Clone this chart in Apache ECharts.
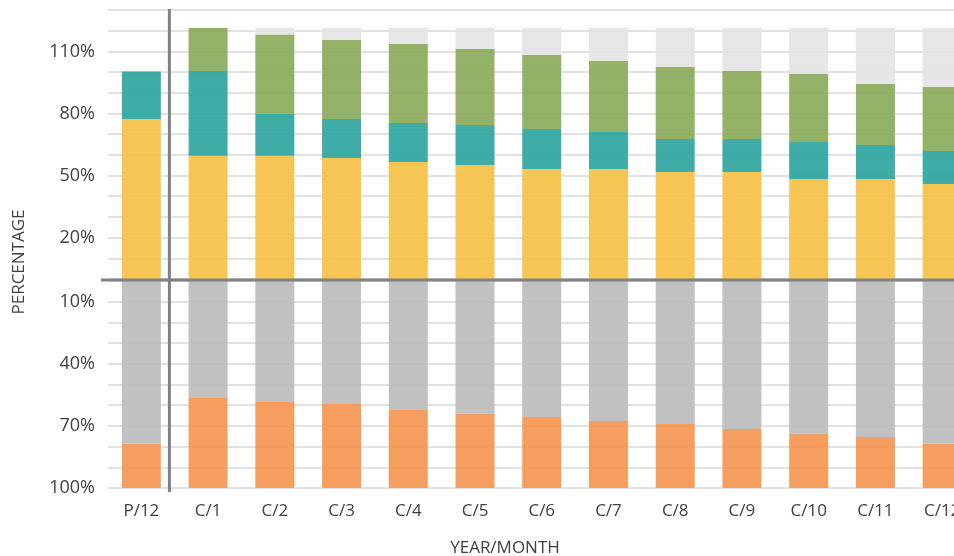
<!DOCTYPE html>
<html>
<head>
<meta charset="utf-8">
<script src="https://cdn.jsdelivr.net/npm/echarts@6/dist/echarts.min.js"></script>
<style>
  html, body { margin: 0; padding: 0; background: #ffffff; overflow: hidden; }
  #chart { width: 990px; height: 556px; }
</style>
</head>
<body>
<div id="chart"></div>
<script>
// Month categories: prior-year December, then current-year months
const categories = ['P/12', 'C/1', 'C/2', 'C/3', 'C/4', 'C/5', 'C/6', 'C/7', 'C/8', 'C/9', 'C/10', 'C/11', 'C/12'];

// Upper stack (percent, bottom to top)
const yellowPart = [77.3, 59.6, 59.6, 58.5, 56.5, 55.1, 53.2, 53.2, 51.7, 51.7, 48.3, 48.3, 45.9];
const tealPart   = [23.0, 40.9, 20.3, 18.8, 18.9, 19.3, 19.3, 17.8, 16.0, 16.0, 17.9, 16.5, 16.0];
const greenPart  = [0,    20.8, 38.2, 38.2, 38.2, 36.8, 35.8, 34.4, 34.8, 32.8, 32.9, 29.4, 30.9];
const remainPart = [0,    0,    3.2,  5.8,  7.7,  10.1, 13.0, 15.9, 18.8, 20.8, 22.2, 27.1, 28.5];

// Lower stack (percent, growing downward from zero)
const grayPart   = [78.6, 56.5, 58.5, 59.4, 62.3, 64.1, 65.7, 67.6, 69.1, 71.5, 73.8, 75.4, 78.6];
const orangePart = [21.4, 43.5, 41.5, 40.6, 37.7, 35.9, 34.3, 32.4, 30.9, 28.5, 26.2, 24.6, 21.4];

// Tick labels shown on the value axes
const upperTickLabels = [20, 50, 80, 110];
const lowerTickLabels = [10, 40, 70, 100];

const FONT = 'Open Sans';
const GRID_LEFT = 108;
const GRID_WIDTH = 867.5;
const splitStyle = { color: '#d9d9d9', width: 1.5 };
const labelStyle = { color: '#404040', fontFamily: FONT, fontSize: 18, margin: 13 };

const chart = echarts.init(document.getElementById('chart'), null, { renderer: 'canvas' });

function barSeries(name, data, color, stack, axisIndex) {
  return {
    name: name,
    type: 'bar',
    stack: stack,
    xAxisIndex: axisIndex,
    yAxisIndex: axisIndex,
    barWidth: 39,
    data: data,
    itemStyle: { color: color, opacity: 0.92 },
    emphasis: { disabled: true }
  };
}

chart.setOption({
  animation: false,
  backgroundColor: '#ffffff',
  grid: [
    { left: GRID_LEFT, top: 10, width: GRID_WIDTH, height: 269 },
    { left: GRID_LEFT, top: 281, width: GRID_WIDTH, height: 207 }
  ],
  xAxis: [
    {
      type: 'category', gridIndex: 0, data: categories,
      axisLine: { show: false }, axisTick: { show: false }, axisLabel: { show: false }
    },
    {
      type: 'category', gridIndex: 1, data: categories,
      axisLine: { show: false }, axisTick: { show: false },
      axisLabel: { color: '#404040', fontFamily: FONT, fontSize: 17, margin: 15 }
    }
  ],
  yAxis: [
    {
      type: 'value', gridIndex: 0, min: 0, max: 130, interval: 10,
      axisLine: { show: false }, axisTick: { show: false },
      splitLine: { show: true, lineStyle: splitStyle },
      axisLabel: Object.assign({}, labelStyle, {
        formatter: v => upperTickLabels.includes(v) ? v + '%' : ''
      })
    },
    {
      type: 'value', gridIndex: 1, min: 0, max: 100, interval: 10, inverse: true,
      axisLine: { show: false }, axisTick: { show: false },
      splitLine: { show: true, lineStyle: splitStyle },
      axisLabel: Object.assign({}, labelStyle, {
        formatter: v => lowerTickLabels.includes(v) ? v + '%' : ''
      })
    }
  ],
  series: [
    barSeries('Yellow', yellowPart, '#f6c044', 'up', 0),
    barSeries('Teal', tealPart, '#30a59f', 'up', 0),
    barSeries('Green', greenPart, '#8bab5a', 'up', 0),
    barSeries('Remainder', remainPart, '#e4e4e4', 'up', 0),
    barSeries('Gray', grayPart, '#bbbcbb', 'down', 1),
    barSeries('Orange', orangePart, '#f59651', 'down', 1)
  ]
});

// Reference lines: the zero baseline and the divider after the prior-year column
const zeroY = chart.convertToPixel({ yAxisIndex: 0 }, 0) + 1;
const xP = chart.convertToPixel({ xAxisIndex: 0 }, 'P/12');
const xC = chart.convertToPixel({ xAxisIndex: 0 }, 'C/1');
const dividerX = xP + (xC - xP) * 0.42;
const topY = chart.convertToPixel({ yAxisIndex: 0 }, 130) - 1;
const bottomY = chart.convertToPixel({ yAxisIndex: 1 }, 100) + 4;

chart.setOption({
  graphic: [
    {
      type: 'line', z: 100,
      shape: { x1: GRID_LEFT - 7, y1: zeroY, x2: GRID_LEFT + GRID_WIDTH, y2: zeroY },
      style: { stroke: '#808185', lineWidth: 3 }
    },
    {
      type: 'line', z: 100,
      shape: { x1: dividerX, y1: topY, x2: dividerX, y2: bottomY },
      style: { stroke: '#808185', lineWidth: 3 }
    },
    {
      type: 'text', z: 100,
      x: 19, y: 262, rotation: Math.PI / 2,
      style: {
        text: 'PERCENTAGE', fill: '#404040', font: '17px "Open Sans"',
        align: 'center', verticalAlign: 'middle'
      }
    },
    {
      type: 'text', z: 100,
      x: 505, y: 548,
      style: {
        text: 'YEAR/MONTH', fill: '#404040', font: '17px "Open Sans"',
        align: 'center', verticalAlign: 'middle'
      }
    }
  ]
});
</script>
</body>
</html>
